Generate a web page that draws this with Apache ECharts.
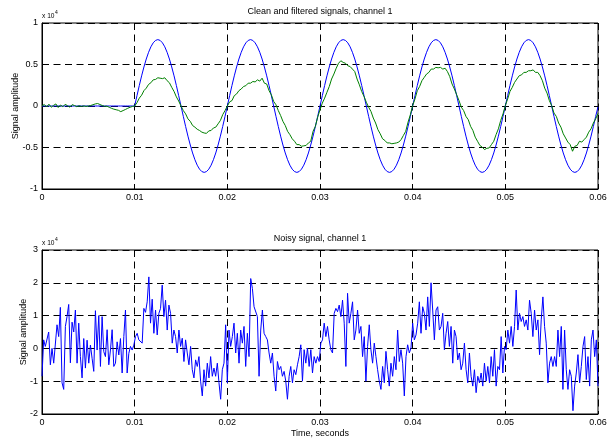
<!DOCTYPE html>
<html><head><meta charset="utf-8">
<script src="https://cdn.jsdelivr.net/npm/echarts@6/dist/echarts.min.js"></script>
<style>html,body{margin:0;padding:0;background:#fff}#c{width:609px;height:441px}</style>
</head><body><div id="c"></div>
<script>
// ---- data (amplitudes in units of 10^4) ----
const topTitle = 'Clean and filtered signals, channel 1';
const bottomTitle = 'Noisy signal, channel 1';
const yName = 'Signal amplitude';
const xName = 'Time, seconds';
const xTickValues = [0, 0.01, 0.02, 0.03, 0.04, 0.05, 0.06];
const topYTicks = [-1, -0.5, 0, 0.5, 1];
const bottomYTicks = [-2, -1, 0, 1, 2, 3];
const cleanStep = 0.00025; // seconds between clean/filtered samples

const cleanSignal = [
0,0,0,0,0,0,0,0,0,0,0,0,0,0,0,0,0,0,0,0,0,0,0,0,0,0,0,0,0,0,0,0,0,0,0,0,0,0,0,0,0,
0.125,0.247,0.363,0.470,0.566,0.647,0.713,0.761,0.790,0.800,0.790,0.761,0.713,0.647,0.566,0.470,0.363,0.247,0.125,0,-0.125,-0.247,-0.363,-0.470,-0.566,-0.647,-0.713,-0.761,-0.790,-0.800,-0.790,-0.761,-0.713,-0.647,-0.566,-0.470,-0.363,-0.247,-0.125,0,
0.125,0.247,0.363,0.470,0.566,0.647,0.713,0.761,0.790,0.800,0.790,0.761,0.713,0.647,0.566,0.470,0.363,0.247,0.125,0,-0.125,-0.247,-0.363,-0.470,-0.566,-0.647,-0.713,-0.761,-0.790,-0.800,-0.790,-0.761,-0.713,-0.647,-0.566,-0.470,-0.363,-0.247,-0.125,0,
0.125,0.247,0.363,0.470,0.566,0.647,0.713,0.761,0.790,0.800,0.790,0.761,0.713,0.647,0.566,0.470,0.363,0.247,0.125,0,-0.125,-0.247,-0.363,-0.470,-0.566,-0.647,-0.713,-0.761,-0.790,-0.800,-0.790,-0.761,-0.713,-0.647,-0.566,-0.470,-0.363,-0.247,-0.125,0,
0.125,0.247,0.363,0.470,0.566,0.647,0.713,0.761,0.790,0.800,0.790,0.761,0.713,0.647,0.566,0.470,0.363,0.247,0.125,0,-0.125,-0.247,-0.363,-0.470,-0.566,-0.647,-0.713,-0.761,-0.790,-0.800,-0.790,-0.761,-0.713,-0.647,-0.566,-0.470,-0.363,-0.247,-0.125,0,
0.125,0.247,0.363,0.470,0.566,0.647,0.713,0.761,0.790,0.800,0.790,0.761,0.713,0.647,0.566,0.470,0.363,0.247,0.125,0,-0.125,-0.247,-0.363,-0.470,-0.566,-0.647,-0.713,-0.761,-0.790,-0.800,-0.790,-0.761,-0.713,-0.647,-0.566,-0.470,-0.363,-0.247,-0.125,-0.01
];

const filteredSignal = [
0.000,0.018,-0.012,0.022,-0.015,0.008,0.025,-0.018,0.012,-0.010,
0.020,0.004,-0.014,0.016,0.006,-0.008,0.003,-0.005,0.002,-0.006,
0.000,0.006,0.015,0.025,0.030,0.018,0.006,-0.004,-0.002,-0.015,
-0.028,-0.038,-0.045,-0.052,-0.068,-0.055,-0.042,-0.028,-0.015,-0.006,
0.000,
0.040,0.095,0.130,0.185,0.215,0.260,0.280,0.315,0.320,0.340,0.335,0.330,0.340,0.305,0.280,0.225,0.175,0.110,0.060,0.000,-0.055,-0.095,-0.155,-0.185,-0.235,-0.255,-0.280,-0.295,-0.315,-0.325,-0.330,-0.300,-0.295,-0.265,-0.255,-0.215,-0.175,-0.105,-0.055,0.000,
0.050,0.065,0.125,0.145,0.185,0.205,0.235,0.245,0.275,0.275,0.295,0.290,0.315,0.300,0.335,0.275,0.265,0.185,0.135,0.055,0.015,-0.055,-0.115,-0.185,-0.235,-0.305,-0.345,-0.395,-0.425,-0.465,-0.465,-0.485,-0.480,-0.475,-0.445,-0.425,-0.305,-0.245,-0.135,-0.045,
0.035,0.095,0.165,0.235,0.325,0.385,0.455,0.515,0.545,0.525,0.515,0.485,0.475,0.445,0.415,0.325,0.255,0.175,0.115,0.045,-0.015,-0.065,-0.145,-0.205,-0.285,-0.335,-0.395,-0.415,-0.445,-0.445,-0.455,-0.450,-0.445,-0.435,-0.405,-0.355,-0.305,-0.195,-0.105,0.005,
0.085,0.185,0.235,0.305,0.345,0.385,0.405,0.445,0.445,0.465,0.460,0.465,0.445,0.455,0.415,0.355,0.265,0.205,0.135,0.065,-0.015,-0.055,-0.125,-0.165,-0.245,-0.295,-0.375,-0.425,-0.475,-0.495,-0.525,-0.510,-0.505,-0.465,-0.425,-0.345,-0.275,-0.175,-0.095,0.005,
0.085,0.175,0.225,0.285,0.325,0.365,0.375,0.405,0.405,0.425,0.425,0.435,0.405,0.405,0.365,0.305,0.215,0.155,0.065,0.005,-0.085,-0.125,-0.205,-0.255,-0.335,-0.385,-0.435,-0.465,-0.545,-0.485,-0.475,-0.425,-0.435,-0.405,-0.375,-0.315,-0.275,-0.205,-0.155,-0.090
];

const noisySignal = [
-0.85,0.26,0.06,0.0,0.5,-0.5,0.0,-0.45,-0.45,0.72,
0.36,1.25,-1.05,-1.25,0.67,0.97,1.34,-0.44,0.8,0.5,
1.17,-0.45,0.77,-0.25,-0.9,0.3,-0.6,0.25,-0.45,0.1,
-0.3,-0.7,1.15,-0.05,1.0,-0.55,0.97,-0.1,-0.25,0.57,
-0.5,-0.05,0.57,-0.55,-0.45,0.2,-0.2,0.3,-0.75,0.36,
1.17,-0.75,-0.15,0.06,-0.05,0.1,0.36,0.46,0.26,0.2,
0.16,1.22,1.1,1.42,2.18,0.77,1.5,0.46,1.17,0.41,
1.07,1.22,1.93,0.97,1.47,0.56,1.32,1.07,0.16,0.56,
0.36,-0.14,0.56,0.06,0.31,-0.4,0.26,-0.14,-0.5,0.06,
-0.65,-0.9,-0.35,-0.55,-0.25,-1.0,-1.45,-0.65,-1.15,-0.45,
-0.9,-0.25,-0.85,-0.6,-0.85,-0.45,-1.05,-1.55,-0.65,-0.45,
0.72,-1.05,0.56,0.06,0.36,0.77,-0.14,0.46,-0.45,0.56,
0.16,0.67,-0.55,0.46,-0.25,2.13,1.83,1.27,1.32,0.97,
-0.85,0.56,1.17,0.46,0.36,0.26,-0.14,-0.45,-0.14,-0.85,
-1.3,-0.4,-0.65,-0.55,-0.85,-0.7,-1.0,-1.55,-0.85,-0.55,
-1.05,-0.65,-0.8,-0.5,
-0.25,0.11,-1.0,-0.04,-0.45,0.01,-0.55,-0.04,-0.75,-0.25,
-0.45,-0.25,-0.4,0.16,0.26,0.77,0.36,0.67,0.26,-0.04,
-0.14,1.07,1.22,1.12,1.32,0.97,1.47,0.77,-0.55,1.68,
0.77,1.07,1.42,0.26,0.56,1.17,0.46,0.67,-0.25,0.36,
-1.0,0.06,0.72,-0.04,-0.45,0.16,-0.25,-0.65,-1.0,-1.25,
-0.55,-1.05,-0.09,-0.65,-1.15,-0.45,-0.85,-0.25,-0.65,0.56,
-0.4,-0.04,-0.45,-1.45,-0.25,0.11,-0.14,0.01,0.77,0.26,
0.41,0.77,1.42,0.46,1.27,1.07,0.56,1.57,0.67,2.0,
1.17,0.26,1.17,1.27,0.56,0.67,1.07,-0.04,0.46,0.82,
0.06,0.67,-0.45,0.56,0.36,-0.35,-0.14,-0.65,-0.45,0.16,
-0.65,-1.05,-0.14,-0.85,-1.15,-0.65,-1.35,-0.85,-1.05,-0.75,
-1.15,-0.45,-1.0,-0.55,-1.05,-0.25,-0.85,-0.04,-1.15,-0.55,
-0.65,0.36,-0.75,0.06,-0.04,0.56,0.16,0.67,0.06,0.67,
1.78,0.56,1.07,0.82,0.97,0.67,0.87,0.56,1.47,1.07,
0.36,1.17,0.56,0.87,-0.19,0.87,1.57,0.67,0.16,-1.05,
-0.45,-0.25,-0.55,-0.25,-0.55,0.56,-0.25,0.67,-1.25,0.56,
-0.65,-1.25,-0.65,-0.85,-1.9,-1.15,-0.75,-0.19,-1.05,-0.55,
0.06,0.36,-0.95,-0.25,-1.15,0.26,0.56,-0.25,0.26,-1.15
];

// ---- chart ----
const FONT = 'Liberation Sans, Arial, sans-serif';
const xMax = xTickValues[xTickValues.length - 1];
const noisyStep = xMax / (noisySignal.length - 1);
const cleanPts = cleanSignal.map((v, i) => [i * cleanStep, v]);
const filtPts = filteredSignal.map((v, i) => [i * cleanStep, v]);
const noisyPts = noisySignal.map((v, i) => [i * noisyStep, v]);

const fmtX = v => String(Math.round(v * 100) / 100);
const fmtY = v => String(Math.round(v * 10) / 10);

function xAxisCfg(gi, withName) {
  const a = {
    gridIndex: gi, type: 'value', min: xTickValues[0], max: xMax, interval: 0.01,
    axisLine: { show: true, onZero: false, lineStyle: { color: '#000', width: 1 } },
    axisTick: { show: true, inside: true, length: 3, lineStyle: { color: '#000' } },
    axisLabel: { color: '#000', fontSize: 9, fontFamily: FONT, margin: 4, formatter: fmtX },
    splitLine: { show: true, lineStyle: { color: '#000', width: 1, type: [7, 4.5] } }
  };
  if (withName) {
    a.name = xName; a.nameLocation = 'middle'; a.nameGap = 15; a.nameMoveOverlap = false;
    a.nameTextStyle = { color: '#000', fontSize: 9, fontFamily: FONT };
  }
  return a;
}
function yAxisCfg(gi, ticks, gap) {
  return {
    gridIndex: gi, type: 'value', min: ticks[0], max: ticks[ticks.length - 1],
    interval: ticks[1] - ticks[0],
    name: yName, nameLocation: 'middle', nameGap: gap, nameRotate: 90, nameMoveOverlap: false,
    nameTextStyle: { color: '#000', fontSize: 9, fontFamily: FONT },
    axisLine: { show: true, onZero: false, lineStyle: { color: '#000', width: 1 } },
    axisTick: { show: true, inside: true, length: 3, lineStyle: { color: '#000' } },
    axisLabel: { color: '#000', fontSize: 9, fontFamily: FONT, margin: 4, formatter: fmtY },
    splitLine: { show: true, lineStyle: { color: '#000', width: 1, type: [7, 4.5] } }
  };
}

const chart = echarts.init(document.getElementById('c'), null, { renderer: 'canvas' });
chart.setOption({
  animation: false,
  backgroundColor: '#fff',
  grid: [
    { left: 42, right: 11, top: 23, height: 166, outerBoundsMode: 'none', containLabel: false, show: true, borderColor: '#000', borderWidth: 1, backgroundColor: 'transparent' },
    { left: 42, right: 11, top: 250, height: 164, outerBoundsMode: 'none', containLabel: false, show: true, borderColor: '#000', borderWidth: 1, backgroundColor: 'transparent' }
  ],
  xAxis: [xAxisCfg(0, false), xAxisCfg(1, true)],
  yAxis: [yAxisCfg(0, topYTicks, 22), yAxisCfg(1, bottomYTicks, 14)],
  series: [
    { type: 'line', xAxisIndex: 0, yAxisIndex: 0, data: cleanPts, showSymbol: false,
      lineStyle: { color: '#0000ff', width: 1 }, itemStyle: { color: '#0000ff' } },
    { type: 'line', xAxisIndex: 0, yAxisIndex: 0, data: filtPts, showSymbol: false,
      lineStyle: { color: '#008000', width: 1 }, itemStyle: { color: '#008000' } },
    { type: 'line', xAxisIndex: 1, yAxisIndex: 1, data: noisyPts, showSymbol: false,
      lineStyle: { color: '#0000ff', width: 1 }, itemStyle: { color: '#0000ff' } }
  ],
  graphic: [
    { type: 'text', x: 320, y: 12, style: { text: topTitle, fill: '#000', font: '9px ' + FONT, textAlign: 'center', textVerticalAlign: 'middle' } },
    { type: 'text', x: 320, y: 239, style: { text: bottomTitle, fill: '#000', font: '9px ' + FONT, textAlign: 'center', textVerticalAlign: 'middle' } },
    { type: 'text', x: 42, y: 16, style: { text: 'x 10', fill: '#000', font: '6.6px ' + FONT, textAlign: 'left', textVerticalAlign: 'middle' } },
    { type: 'text', x: 55, y: 12.5, style: { text: '4', fill: '#000', font: '5px ' + FONT, textAlign: 'left', textVerticalAlign: 'middle' } },
    { type: 'text', x: 42, y: 243, style: { text: 'x 10', fill: '#000', font: '6.6px ' + FONT, textAlign: 'left', textVerticalAlign: 'middle' } },
    { type: 'text', x: 55, y: 239.5, style: { text: '4', fill: '#000', font: '5px ' + FONT, textAlign: 'left', textVerticalAlign: 'middle' } }
  ]
});
</script></body></html>
